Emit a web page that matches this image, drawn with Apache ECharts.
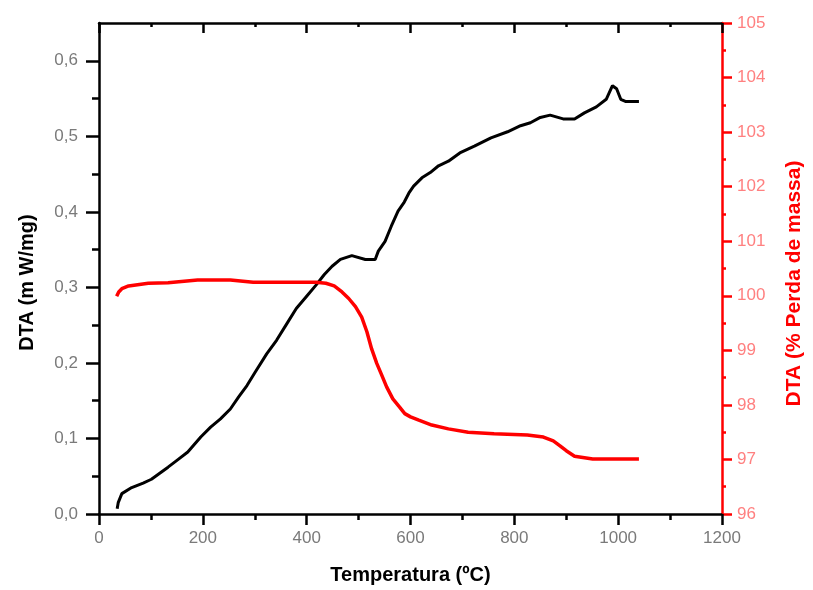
<!DOCTYPE html>
<html><head><meta charset="utf-8">
<script src="https://cdn.jsdelivr.net/npm/echarts@6/dist/echarts.min.js"></script>
<style>html,body{margin:0;padding:0;background:#fff}#c{width:813px;height:590px}</style>
</head><body><div id="c"></div>
<script>
// DTA curve (left axis, mW/mg)
const dtaTemp = [35,37,44,63,85,101,117,133,152,171,196,215,234,253,269,285,301,323,342,361,380,402,418,434,449,465,487,513,532,538,551,563,576,588,597,606,622,638,654,673,695,723,755,787,812,831,850,869,894,916,935,958,977,989,997,1005,1015,1040];
const dtaValues = [0.007,0.015,0.027,0.035,0.041,0.046,0.054,0.062,0.072,0.082,0.102,0.115,0.126,0.139,0.155,0.170,0.188,0.212,0.230,0.251,0.272,0.290,0.303,0.317,0.328,0.337,0.342,0.337,0.337,0.348,0.361,0.381,0.401,0.413,0.425,0.434,0.445,0.452,0.461,0.467,0.478,0.487,0.498,0.506,0.514,0.518,0.525,0.528,0.523,0.523,0.531,0.539,0.549,0.567,0.563,0.549,0.546,0.546];
// Mass loss curve (right axis, %)
const tgTemp = [34,38,44,57,95,133,190,253,297,418,437,453,468,481,494,506,516,525,535,544,554,566,579,589,600,616,641,673,711,761,825,856,875,888,900,916,951,1040];
const tgValues = [99.99,100.07,100.13,100.18,100.23,100.24,100.29,100.29,100.25,100.25,100.23,100.18,100.07,99.95,99.80,99.61,99.34,99.03,98.76,98.56,98.33,98.11,97.96,97.84,97.78,97.72,97.63,97.56,97.50,97.47,97.45,97.41,97.34,97.25,97.16,97.06,97.01,97.01];
// tick values
const leftMajorTicks = [0, 0.1, 0.2, 0.3, 0.4, 0.5, 0.6];
const leftMinorTicks = [0.05, 0.15, 0.25, 0.35, 0.45, 0.55];
// axis text
const xTitle = 'Temperatura (ºC)';
const yLeftTitle = 'DTA (m W/mg)';
const yRightTitle = 'DTA (% Perda de massa)';

const zip = (a, b) => a.map((v, i) => [v, b[i]]);
const font = 'Liberation Sans, Arial, sans-serif';
const lw = 2.5;
const chart = echarts.init(document.getElementById('c'));
chart.setOption({
  animation: false,
  backgroundColor: '#fff',
  grid: {left: 99, right: 81, top: 23, bottom: 75, containLabel: false},
  xAxis: [{
    type: 'value', min: 0, max: 1200, interval: 200, position: 'bottom',
    name: xTitle, nameLocation: 'middle', nameGap: 51,
    nameTextStyle: {color: '#000', fontSize: 20, fontFamily: font, fontWeight: 'bold'},
    axisLine: {show: true, onZero: false, lineStyle: {color: '#000', width: lw}},
    axisTick: {show: true, inside: false, length: 11, lineStyle: {color: '#000', width: lw}},
    minorTick: {show: true, splitNumber: 2, length: 6, lineStyle: {color: '#000', width: lw}},
    axisLabel: {color: '#7a7a7a', fontSize: 17, fontFamily: font, margin: 16, formatter: v => String(v)},
    splitLine: {show: false}
  }, {
    type: 'value', min: 0, max: 1200, interval: 200, position: 'top',
    axisLine: {show: true, onZero: false, lineStyle: {color: '#000', width: lw}},
    axisTick: {show: true, inside: true, length: 10, lineStyle: {color: '#000', width: lw}},
    minorTick: {show: true, splitNumber: 2, length: 4, lineStyle: {color: '#000', width: lw}},
    axisLabel: {show: false}, splitLine: {show: false}
  }],
  yAxis: [{
    type: 'value', min: 0, max: 0.65, position: 'left',
    name: yLeftTitle, nameLocation: 'middle', nameGap: 62, nameRotate: 90,
    nameTextStyle: {color: '#000', fontSize: 20, fontFamily: font, fontWeight: 'bold', padding: [0, 28, 0, 0]},
    axisLine: {show: true, onZero: false, lineStyle: {color: '#000', width: lw}},
    axisTick: {show: true, inside: false, length: 13, customValues: leftMajorTicks, lineStyle: {color: '#000', width: lw}},
    axisLabel: {color: '#7a7a7a', fontSize: 17, fontFamily: font, margin: 21, customValues: leftMajorTicks,
      formatter: v => v.toFixed(1).replace('.', ',')},
    splitLine: {show: false}
  }, {
    type: 'value', min: 96, max: 105, interval: 1, position: 'right',
    name: yRightTitle, nameLocation: 'middle', nameGap: 62, nameRotate: 90,
    nameTextStyle: {color: '#ff0000', fontSize: 21, fontFamily: font, fontWeight: 'bold', padding: [0, 30, 0, 0]},
    axisLine: {show: true, onZero: false, lineStyle: {color: '#ff0000', width: lw}},
    axisTick: {show: true, inside: false, length: 10, lineStyle: {color: '#ff0000', width: lw}},
    minorTick: {show: true, splitNumber: 2, length: 4, lineStyle: {color: '#ff0000', width: lw}},
    axisLabel: {color: '#ff8080', fontSize: 17, fontFamily: font, margin: 15},
    splitLine: {show: false}
  }, {
    type: 'value', min: 0, max: 0.65, position: 'left',
    axisLine: {show: false},
    axisTick: {show: true, inside: false, length: 7, customValues: leftMinorTicks, lineStyle: {color: '#000', width: lw}},
    axisLabel: {show: false}, splitLine: {show: false}
  }],
  series: [{
    type: 'line', xAxisIndex: 0, yAxisIndex: 0, data: zip(dtaTemp, dtaValues),
    showSymbol: false, lineStyle: {color: '#000', width: 3}, itemStyle: {color: '#000'}
  }, {
    type: 'line', xAxisIndex: 0, yAxisIndex: 1, data: zip(tgTemp, tgValues),
    showSymbol: false, lineStyle: {color: '#ff0000', width: 3.5}, itemStyle: {color: '#ff0000'}
  }]
});
</script></body></html>
